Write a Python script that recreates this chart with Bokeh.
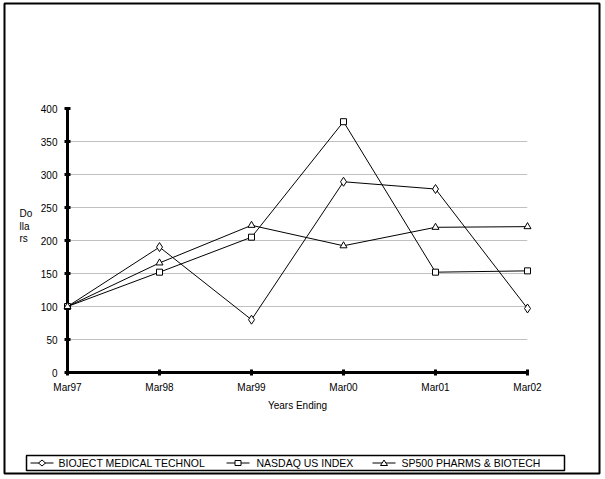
from bokeh.plotting import figure
from bokeh.models import Range1d, FixedTicker
from bokeh.core.properties import value
from bokeh.embed import file_html
from bokeh.resources import INLINE

years = ["Mar97", "Mar98", "Mar99", "Mar00", "Mar01", "Mar02"]
bioject = [100, 190, 80, 289, 278, 97]
nasdaq = [100, 152, 205, 380, 152, 154]
sp500 = [100, 166, 223, 192, 220, 221]
y_ticks = [0, 50, 100, 150, 200, 250, 300, 350, 400]
series_names = ["BIOJECT MEDICAL TECHNOL", "NASDAQ US INDEX", "SP500 PHARMS & BIOTECH"]
y_label_parts = ["Do", "lla", "rs"]

FONT = "Liberation Sans"
xs = list(range(len(years)))

W, H = 605, 479
FL, FR, FT, FB = 67, 527, 108, 372  # frame edges in pixels
X0, X1, Y0, Y1 = 0, len(years) - 1, 0, 400

def dx(px):
    return X0 + (px - FL) * (X1 - X0) / (FR - FL)

def dy(py):
    return Y0 + (FB - py) * (Y1 - Y0) / (FB - FT)

p = figure(width=W, height=H, output_backend="svg", toolbar_location=None,
           x_range=Range1d(X0, X1), y_range=Range1d(Y0, Y1),
           min_border_left=FL, min_border_right=W - FR,
           min_border_top=FT, min_border_bottom=H - FB)
p.outline_line_color = None
p.background_fill_color = "white"
p.border_fill_color = "white"

p.xgrid.grid_line_color = None
p.ygrid.grid_line_color = "#c0c0c0"
p.ygrid.grid_line_width = 1
p.ygrid.ticker = FixedTicker(ticks=y_ticks)

for ax in (p.xaxis[0], p.yaxis[0]):
    ax.axis_line_width = 3
    ax.axis_line_color = "black"
    ax.major_tick_line_width = 3
    ax.major_tick_in = 3
    ax.major_tick_out = 3
    ax.minor_tick_line_color = None
    ax.major_label_text_font = FONT
    ax.major_label_text_font_size = "10px"
    ax.major_label_text_color = "black"

p.yaxis.ticker = FixedTicker(ticks=y_ticks)
p.yaxis.major_label_standoff = 7
p.xaxis.ticker = FixedTicker(ticks=xs)
p.xaxis.major_label_overrides = {i: y for i, y in enumerate(years)}
p.xaxis.major_label_standoff = 6
p.xaxis.axis_label = "Years Ending"
p.xaxis.axis_label_text_font = FONT
p.xaxis.axis_label_text_font_size = "10px"
p.xaxis.axis_label_text_font_style = "normal"
p.xaxis.axis_label_text_color = "black"
p.xaxis.axis_label_standoff = 4

specs = [(bioject, "diamond", 9), (nasdaq, "square", 6), (sp500, "triangle", 7)]
for vals, marker, size in specs:
    p.line(xs, vals, line_color="black", line_width=1, level="overlay")
    p.scatter(xs, vals, marker=marker, size=size, fill_color="white",
              line_color="black", line_width=1, level="overlay")

# outer border and legend frame (unclipped overlay glyphs)
p.quad(left=[dx(4)], right=[dx(599)], top=[dy(3)], bottom=[dy(473)],
       fill_alpha=0, line_color="black", line_width=2, level="overlay")
p.quad(left=[dx(26)], right=[dx(564)], top=[dy(455)], bottom=[dy(470)],
       fill_alpha=0, line_color="black", line_width=1.5, level="overlay")

# legend key shapes (pixel offsets around the key centre)
key_shapes = {
    "diamond": [(-3.5, 0), (0, -3), (3.5, 0), (0, 3)],
    "square": [(-3, -2.5), (3, -2.5), (3, 2.5), (-3, 2.5)],
    "triangle": [(-3.5, 2.5), (3.5, 2.5), (0, -3)],
}

# legend entries: sample line + key shape + label
LEG_Y = 462.5
glyph_left = [30, 226, 372]
label_left = [58, 256, 401]
GLEN = 23
for (vals, marker, size), name, gx, tx in zip(specs, series_names, glyph_left, label_left):
    p.segment(x0=[dx(gx)], y0=[dy(LEG_Y)], x1=[dx(gx + GLEN)], y1=[dy(LEG_Y)],
              line_color="black", line_width=1, level="overlay")
    cx = gx + GLEN / 2
    pts = key_shapes[marker]
    p.patch(x=[dx(cx + ox) for ox, oy in pts], y=[dy(LEG_Y + oy) for ox, oy in pts],
            fill_color="white", line_color="black", line_width=1, level="overlay")
    p.text(x=[dx(tx)], y=[dy(LEG_Y)], text=[name], text_font=value(FONT),
           text_font_size="10.5px", text_baseline="middle", text_align="left",
           text_color="black", level="overlay")

# "Dollars" label, broken over three lines as in the original
p.text(x=[dx(19)] * 3, y=[dy(213), dy(226), dy(238)], text=y_label_parts,
       text_font=value(FONT), text_font_size="10px", text_baseline="middle",
       text_align="left", text_color="black", level="overlay")

open("out.html", "w").write(file_html(p, INLINE))
